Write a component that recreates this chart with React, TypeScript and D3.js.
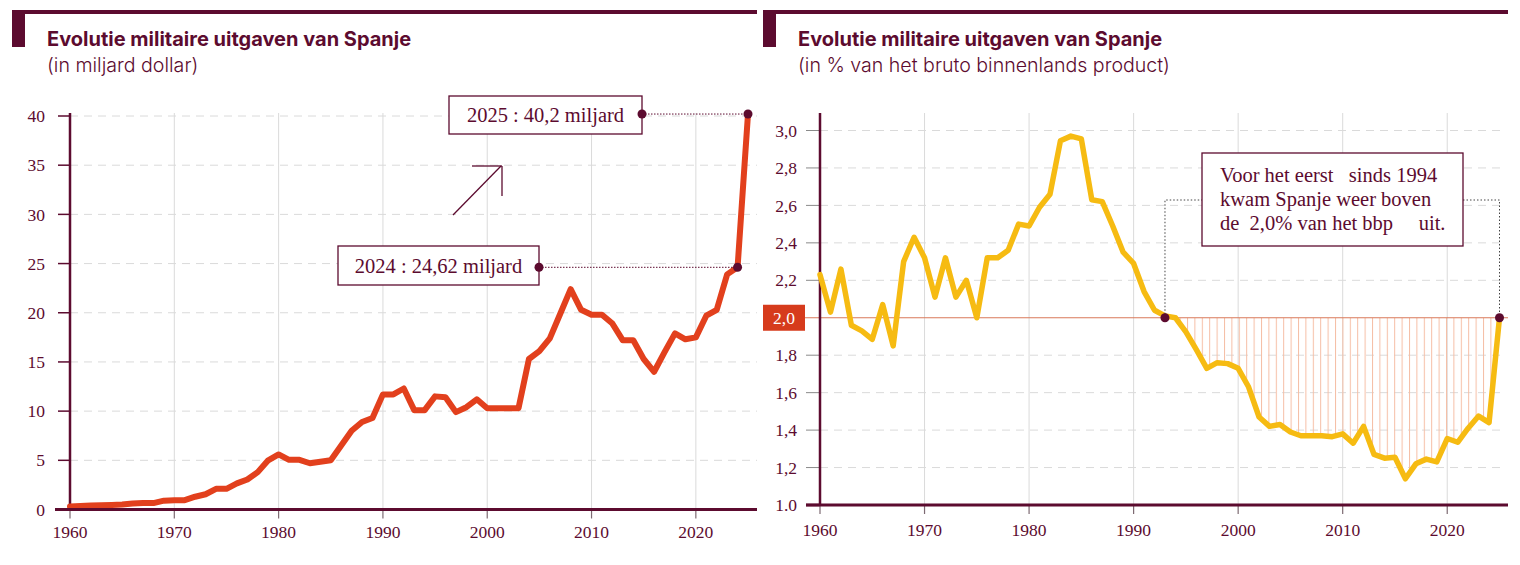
import React from "react";
import * as d3 from "d3";

// ---------- DATA ----------
const firstYear = 1960;
const lastYear = 2025;
const decadeTicks = [1960, 1970, 1980, 1990, 2000, 2010, 2020];

// Military expenditure, billion USD, 1960..2025
const spendingBn = [
  0.3, 0.35, 0.4, 0.42, 0.45, 0.5, 0.6, 0.65, 0.65, 0.9,
  0.95, 0.95, 1.3, 1.55, 2.1, 2.1, 2.65, 3.05, 3.8, 5.0,
  5.6, 5.05, 5.05, 4.7, 4.85, 5.0, 6.5, 8.0, 8.9, 9.3,
  11.7, 11.7, 12.3, 10.1, 10.1, 11.5, 11.4, 9.9, 10.4, 11.2,
  10.3, 10.3, 10.3, 10.3, 15.3, 16.1, 17.4, 19.9, 22.4, 20.3,
  19.8, 19.8, 18.9, 17.2, 17.2, 15.3, 14.0, 16.0, 17.9, 17.3,
  17.5, 19.7, 20.3, 23.9, 24.62, 40.2,
];

// Military expenditure, % of GDP, 1960..2025
const spendingPct = [
  2.23, 2.03, 2.26, 1.96, 1.93, 1.885, 2.07, 1.85, 2.3, 2.43,
  2.32, 2.11, 2.32, 2.11, 2.2, 2.0, 2.32, 2.32, 2.36, 2.5,
  2.49, 2.59, 2.66, 2.945, 2.97, 2.955, 2.63, 2.62, 2.49, 2.35,
  2.29, 2.14, 2.04, 2.01, 2.0, 1.925, 1.83, 1.73, 1.76, 1.755,
  1.73, 1.63, 1.47, 1.42, 1.43, 1.39, 1.37, 1.37, 1.37, 1.365,
  1.38, 1.33, 1.42, 1.27, 1.25, 1.255, 1.14, 1.22, 1.245, 1.23,
  1.355, 1.335, 1.41, 1.475, 1.44, 2.0,
];

const leftYTicks = [0, 5, 10, 15, 20, 25, 30, 35, 40];
const rightYTicks = [1.0, 1.2, 1.4, 1.6, 1.8, 2.0, 2.2, 2.4, 2.6, 2.8, 3.0];
const rightYTickLabels = ["1.0", "1,2", "1,4", "1,6", "1,8", "2,0", "2,2", "2,4", "2,6", "2,8", "3,0"];
const threshold = 2.0;
const thresholdSinceYear = 1993;

const title = "Evolutie militaire uitgaven van Spanje";
const leftSubtitle = "(in miljard dollar)";
const rightSubtitle = "(in % van het bruto binnenlands product)";
const note2025 = "2025 : 40,2 miljard";
const note2024 = "2024 : 24,62 miljard";
const noteRightLines = ["Voor het eerst   sinds 1994", "kwam Spanje weer boven", "de  2,0% van het bbp     uit."];

// ---------- STYLE ----------
const INK = "#5c0b2f";
const RED = "#e2401d";
const YELLOW = "#f6bb12";
const GRID = "#dadada";
const SANS = "Inter, 'Noto Sans', sans-serif";
const SERIF = "'Liberation Serif', 'DejaVu Serif', serif";

type Pt = { year: number; v: number };
const leftData: Pt[] = spendingBn.map((v, i) => ({ year: firstYear + i, v }));
const rightData: Pt[] = spendingPct.map((v, i) => ({ year: firstYear + i, v }));

function Header({ x0, x1, sub }: { x0: number; x1: number; sub: string }) {
  return (
    <g>
      <rect x={x0} y={10} width={x1 - x0} height={4} fill={INK} />
      <rect x={x0} y={10} width={13} height={37} fill={INK} />
      <text x={x0 + 35} y={46} fontFamily={SANS} fontWeight={700} fontSize={20} fill={INK}>
        {title}
      </text>
      <text x={x0 + 35} y={72} fontFamily={SANS} fontWeight={300} fontSize={19.6} fill={INK}>
        {sub}
      </text>
    </g>
  );
}

function LeftChart() {
  const x = d3.scaleLinear().domain([firstYear, lastYear]).range([70, 748]);
  const y = d3.scaleLinear().domain([0, 40]).range([509.5, 116]);
  const line = d3
    .line<Pt>()
    .x((d) => x(d.year))
    .y((d) => y(d.v))
    .curve(d3.curveLinear);
  const top = 113;
  const axisY = y(0);
  const d25 = leftData[leftData.length - 1];
  const d24 = leftData[leftData.length - 2];
  return (
    <g>
      <Header x0={12} x1={757} sub={leftSubtitle} />
      {decadeTicks.slice(1).map((t) => (
        <line key={t} x1={x(t)} x2={x(t)} y1={top} y2={axisY} stroke={GRID} strokeWidth={1} />
      ))}
      {leftYTicks.slice(1).map((t) => (
        <line key={t} x1={x(firstYear)} x2={757} y1={y(t)} y2={y(t)} stroke={GRID} strokeDasharray="8 6" />
      ))}
      {leftYTicks.map((t) => (
        <g key={t}>
          <line x1={58} x2={70} y1={y(t)} y2={y(t)} stroke={INK} strokeWidth={1.5} />
          <text x={45} y={y(t)} dy="0.35em" textAnchor="end" fontFamily={SERIF} fontSize={17.5} fill={INK}>
            {t}
          </text>
        </g>
      ))}
      {decadeTicks.map((t) => (
        <g key={t}>
          <line x1={x(t)} x2={x(t)} y1={axisY} y2={axisY + 9} stroke="#7d6a72" strokeWidth={1.2} />
          <text x={x(t)} y={538} textAnchor="middle" fontFamily={SERIF} fontSize={17.5} fill={INK}>
            {t}
          </text>
        </g>
      ))}
      <line x1={70} x2={70} y1={top} y2={axisY} stroke={INK} strokeWidth={2.5} />
      <path d={line(leftData) || ""} fill="none" stroke={RED} strokeWidth={6} strokeLinejoin="round" strokeLinecap="round" />
      <line x1={55} x2={757} y1={axisY} y2={axisY} stroke={INK} strokeWidth={3} />

      {/* arrow */}
      <line x1={453} y1={215} x2={501} y2={166} stroke={INK} strokeWidth={1.3} />
      <line x1={472} y1={166} x2={502} y2={166} stroke={INK} strokeWidth={1.3} />
      <line x1={502} y1={166} x2={502} y2={196} stroke={INK} strokeWidth={1.3} />

      {/* 2025 note */}
      <rect x={449} y={96} width={193} height={38} fill="#fff" stroke={INK} strokeWidth={1.3} />
      <text x={545.5} y={115} dy="0.35em" textAnchor="middle" fontFamily={SERIF} fontSize={20.5} fill={INK}>
        {note2025}
      </text>
      <line x1={642} x2={x(d25.year)} y1={y(d25.v)} y2={y(d25.v)} stroke={INK} strokeWidth={1} strokeDasharray="1.5 1.5" />
      <circle cx={642} cy={y(d25.v)} r={4.5} fill={INK} />
      <circle cx={x(d25.year)} cy={y(d25.v)} r={4.5} fill={INK} />

      {/* 2024 note */}
      <rect x={338} y={246} width={201} height={39} fill="#fff" stroke={INK} strokeWidth={1.3} />
      <text x={438.5} y={265.5} dy="0.35em" textAnchor="middle" fontFamily={SERIF} fontSize={20.5} fill={INK}>
        {note2024}
      </text>
      <line x1={539} x2={x(d24.year)} y1={y(d24.v)} y2={y(d24.v)} stroke={INK} strokeWidth={1} strokeDasharray="1.5 1.5" />
      <circle cx={539} cy={y(d24.v)} r={4.5} fill={INK} />
      <circle cx={x(d24.year)} cy={y(d24.v)} r={4.5} fill={INK} />
    </g>
  );
}

function RightChart() {
  const x = d3.scaleLinear().domain([firstYear, lastYear]).range([820, 1499.5]);
  const y = d3.scaleLinear().domain([1.0, 3.0]).range([505, 130.5]);
  const line = d3
    .line<Pt>()
    .x((d) => x(d.year))
    .y((d) => y(d.v));
  const below = rightData.filter((d) => d.year >= thresholdSinceYear);
  const area = d3
    .area<Pt>()
    .x((d) => x(d.year))
    .y0(y(threshold))
    .y1((d) => y(d.v));
  const top = 113;
  const axisY = y(1.0);
  const ty = y(threshold);
  const dA = rightData.find((d) => d.year === thresholdSinceYear)!;
  const dB = rightData[rightData.length - 1];
  const connY = 200;
  const boxX0 = 1202;
  const boxX1 = 1463;
  return (
    <g>
      <defs>
        <pattern id="hatch" patternUnits="userSpaceOnUse" width={7.4} height={10} x={1187}>
          <line x1={0.5} x2={0.5} y1={0} y2={10} stroke="#f5bea5" strokeWidth={1} />
        </pattern>
        <clipPath id="belowClip">
          <path d={area(below) || ""} />
        </clipPath>
      </defs>
      <Header x0={763} x1={1508} sub={rightSubtitle} />
      {decadeTicks.slice(1).map((t) => (
        <line key={t} x1={x(t)} x2={x(t)} y1={top} y2={axisY} stroke={GRID} strokeWidth={1} />
      ))}
      {rightYTicks.slice(1).filter((t) => t !== threshold).map((t) => (
        <line key={t} x1={x(firstYear)} x2={1505} y1={y(t)} y2={y(t)} stroke={GRID} strokeDasharray="8 6" />
      ))}
      <rect x={x(thresholdSinceYear)} y={ty} width={x(lastYear) - x(thresholdSinceYear)} height={axisY - ty} fill="url(#hatch)" clipPath="url(#belowClip)" />
      <line x1={805} x2={1508} y1={ty} y2={ty} stroke="#d9785a" strokeWidth={1.2} />
      {rightYTicks.map((t, i) =>
        t === threshold ? (
          <g key={t}>
            <rect x={763} y={ty - 13} width={42} height={26} fill="#d63b1c" />
            <text x={784} y={ty} dy="0.35em" textAnchor="middle" fontFamily={SERIF} fontSize={17.5} fill="#fff">
              {rightYTickLabels[i]}
            </text>
          </g>
        ) : (
          <g key={t}>
            <line x1={806} x2={820} y1={y(t)} y2={y(t)} stroke={i === 0 ? INK : "#8a8a8a"} strokeWidth={i === 0 ? 2.5 : 1} />
            <text x={797} y={y(t)} dy="0.35em" textAnchor="end" fontFamily={SERIF} fontSize={17.5} fill={INK}>
              {rightYTickLabels[i]}
            </text>
          </g>
        )
      )}
      {decadeTicks.map((t) => (
        <g key={t}>
          <line x1={x(t)} x2={x(t)} y1={axisY} y2={axisY + 9} stroke="#7d6a72" strokeWidth={1.2} />
          <text x={x(t)} y={536} textAnchor="middle" fontFamily={SERIF} fontSize={17.5} fill={INK}>
            {t}
          </text>
        </g>
      ))}
      <line x1={820} x2={820} y1={top} y2={axisY} stroke={INK} strokeWidth={2.5} />
      <path d={line(rightData) || ""} fill="none" stroke={YELLOW} strokeWidth={5.5} strokeLinejoin="round" strokeLinecap="round" />
      <line x1={806} x2={1508} y1={axisY} y2={axisY} stroke={INK} strokeWidth={3} />

      {/* connector */}
      <path
        d={`M${x(dA.year)},${y(threshold)} V${connY} H${boxX0} M${boxX1},${connY} H${x(dB.year)} V${y(threshold)}`}
        fill="none"
        stroke="#444"
        strokeWidth={1}
        strokeDasharray="1.5 2"
      />
      <circle cx={x(dA.year)} cy={y(threshold)} r={4.5} fill={INK} />
      <circle cx={x(dB.year)} cy={y(threshold)} r={4.5} fill={INK} />
      <rect x={boxX0} y={153} width={boxX1 - boxX0} height={93} fill="#fff" stroke={INK} strokeWidth={1.3} />
      {noteRightLines.map((s, i) => (
        <text key={i} x={1220} y={182 + i * 24} fontFamily={SERIF} fontSize={20.5} fill={INK} xmlSpace="preserve" style={{ whiteSpace: "pre" }}>
          {s}
        </text>
      ))}
    </g>
  );
}

export default function App() {
  return (
    <svg
      width={1520}
      height={565}
      viewBox="0 0 1520 565"
      style={{ position: "absolute", left: 0, top: 0, background: "#fff", display: "block" }}
    >
      <rect width={1520} height={565} fill="#fff" />
      <LeftChart />
      <RightChart />
    </svg>
  );
}
